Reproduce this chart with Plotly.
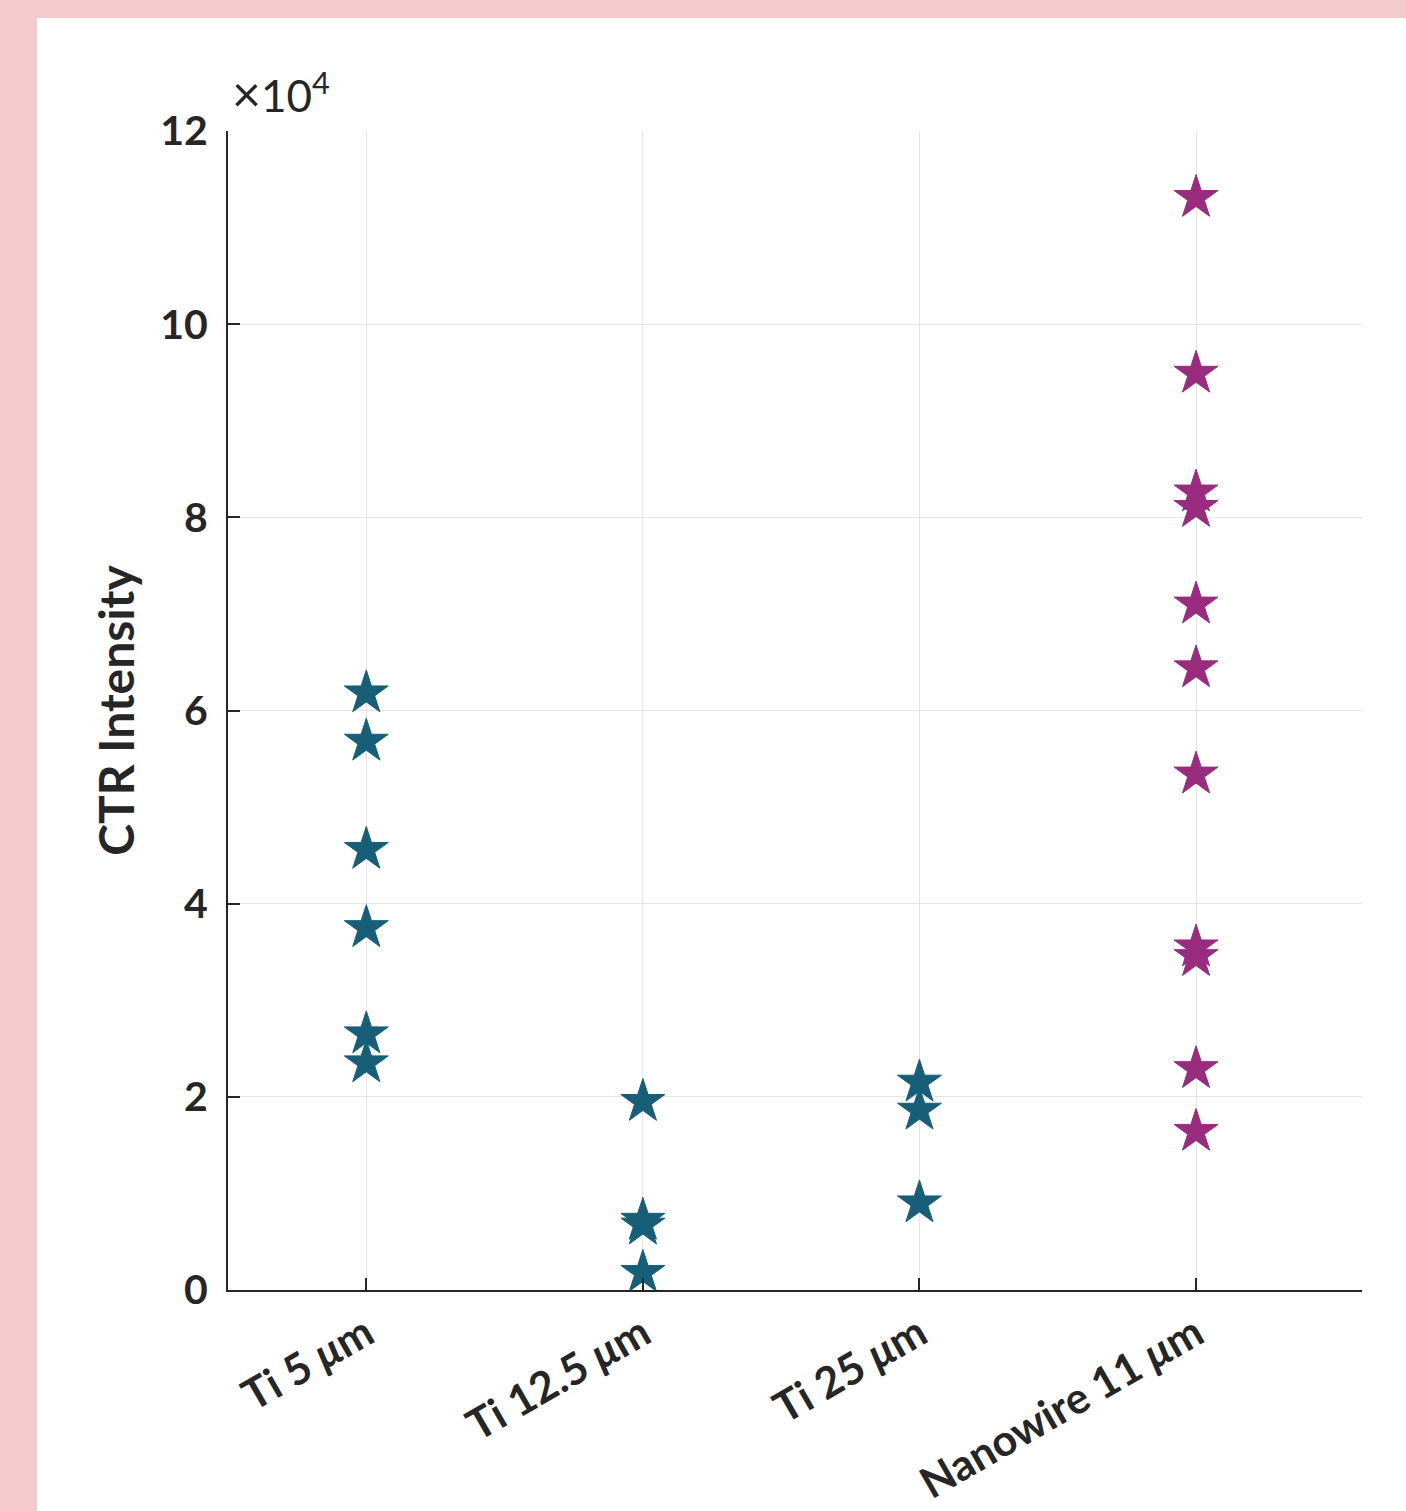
import plotly.graph_objects as go

# Sample groups and their tick labels
categories = [1, 2, 3, 4]
tick_labels = ["Ti 5 <i>μ</i>m", "Ti 12.5 <i>μ</i>m", "Ti 25 <i>μ</i>m", "Nanowire 11 <i>μ</i>m"]

# CTR intensity values (units of 1e4)
ti_5um = [6.18, 5.68, 4.56, 3.75, 2.65, 2.35]
ti_12_5um = [1.95, 0.72, 0.67, 0.18]
ti_25um = [2.15, 1.86, 0.90]
nanowire_11um = [11.31, 9.49, 8.26, 8.10, 7.10, 6.44, 5.34, 3.55, 3.45, 2.29, 1.64]

teal = "#175f78"
magenta = "#992c7e"
ink = "#262626"

fig = go.Figure()

groups = [
    (categories[0], ti_5um, teal),
    (categories[1], ti_12_5um, teal),
    (categories[2], ti_25um, teal),
    (categories[3], nanowire_11um, magenta),
]
for xpos, vals, col in groups:
    fig.add_trace(go.Scatter(
        x=[xpos] * len(vals), y=vals, mode="markers",
        marker=dict(symbol="star", size=33, color=col,
                    line=dict(color=col, width=1)),
        cliponaxis=False, showlegend=False,
    ))

# White panel on a pink page
fig.add_shape(type="rect", xref="paper", yref="paper",
              x0=-0.1684, x1=1.05, y0=-0.2, y1=1.0975,
              fillcolor="white", line=dict(width=0), layer="below")

# Exponent multiplier above the y axis
fig.add_annotation(
    text="<span style='font-size:50px'>×</span>10<sup>4</sup>",
    xref="paper", yref="paper",
    x=0.0, y=1.0, xanchor="left", yanchor="bottom",
    xshift=2, yshift=6, showarrow=False,
    font=dict(family="Lato", size=44, color=ink),
)

fig.update_layout(
    width=1406, height=1511,
    margin=dict(l=228, r=44, t=131, b=221),
    paper_bgcolor="#f4cbcc", plot_bgcolor="white",
    font=dict(family="Lato", color=ink),
    xaxis=dict(
        range=[0.5, 4.6], tickvals=categories, ticktext=tick_labels,
        tickangle=-30, ticks="inside", ticklen=12, tickwidth=2, tickcolor=ink,
        showgrid=True, gridcolor="#e4e4e4", gridwidth=1.2,
        showline=True, linecolor=ink, linewidth=2, zeroline=False,
        automargin=False,
        tickfont=dict(family="Lato", size=43, color=ink, weight="bold"),
    ),
    yaxis=dict(
        range=[0, 12], tickvals=[0, 2, 4, 6, 8, 10, 12],
        ticks="inside", ticklen=12, tickwidth=2, tickcolor=ink,
        showgrid=True, gridcolor="#e4e4e4", gridwidth=1.2,
        showline=True, linecolor=ink, linewidth=2, zeroline=False,
        automargin=False,
        tickfont=dict(family="Lato", size=41, color=ink, weight="bold"),
        ticklabelstandoff=10,
        title=dict(text="CTR Intensity", standoff=10,
                   font=dict(family="Lato", size=48, color=ink, weight="bold")),
    ),
)

fig.write_html("out.html")
